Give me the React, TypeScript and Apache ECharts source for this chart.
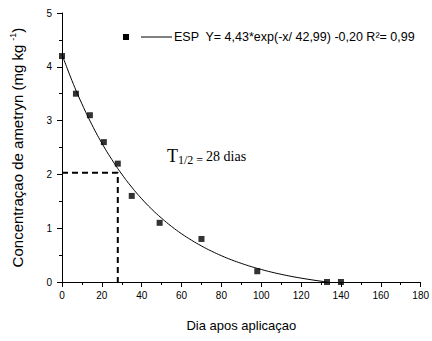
import React, { useEffect, useRef } from "react";
import * as echarts from "echarts";

const days = [0, 7, 14, 21, 28, 35, 49, 70, 98, 133, 140];
const concentration = [4.2, 3.5, 3.1, 2.6, 2.2, 1.6, 1.1, 0.8, 0.2, 0, 0];

// fitted curve Y = 4,43*exp(-x/42,99) - 0,20
const fitX = [0, 5, 10, 15, 20, 25, 30, 35, 40, 45, 50, 55, 60, 65, 70, 75, 80, 85, 90, 95, 100, 105, 110, 115, 120, 125, 130, 133];
const fitY = [4.23, 3.744, 3.311, 2.925, 2.582, 2.277, 2.005, 1.763, 1.547, 1.355, 1.185, 1.032, 0.897, 0.777, 0.67, 0.574, 0.489, 0.413, 0.346, 0.286, 0.233, 0.185, 0.143, 0.105, 0.072, 0.042, 0.015, 0];

const halfLifeX = [0, 28, 28];
const halfLifeY = [2.03, 2.03, 0];

const xTicks = [0, 20, 40, 60, 80, 100, 120, 140, 160, 180];
const yTicks = [0, 1, 2, 3, 4, 5];

const legendText = "ESP  Y= 4,43*exp(-x/ 42,99) -0,20 R\u00b2= 0,99";

export default function App() {
  const ref = useRef<HTMLDivElement>(null);
  useEffect(() => {
    if (!ref.current) return;
    const chart = echarts.init(ref.current, null, { renderer: "svg" });
    const font = "'Liberation Sans', Arial, sans-serif";
    const serif = "'Liberation Serif', 'Times New Roman', serif";
    const axisCommon = {
      axisLine: { show: true, onZero: false, lineStyle: { color: "#000", width: 1 } },
      axisTick: { show: true, inside: false, length: 5, lineStyle: { color: "#000" } },
      minorTick: { show: true, splitNumber: 2, length: 3, lineStyle: { color: "#000" } },
      splitLine: { show: false },
    };
    chart.setOption({
      animation: false,
      backgroundColor: "#fff",
      grid: { left: 62, right: 10, top: 13, bottom: 59, containLabel: false },
      xAxis: {
        type: "value",
        min: xTicks[0],
        max: xTicks[xTicks.length - 1],
        interval: 20,
        name: "Dia apos aplicaçao",
        nameLocation: "middle",
        nameGap: 37,
        ...axisCommon,
        axisLabel: { color: "#000", fontFamily: font, fontSize: 10, margin: 8 },
        nameTextStyle: { color: "#000", fontFamily: font, fontSize: 13 },
      },
      yAxis: {
        type: "value",
        min: yTicks[0],
        max: yTicks[yTicks.length - 1],
        interval: 1,
        name: "{n|Concentraçao de ametryn (mg kg }{s|-1}{n|)}",
        nameLocation: "middle",
        nameGap: 36,
        ...axisCommon,
        axisLabel: { color: "#000", fontFamily: font, fontSize: 10, margin: 10 },
        nameTextStyle: {
          color: "#000",
          fontFamily: font,
          fontSize: 15,
          rich: {
            n: { fontFamily: font, fontSize: 15, color: "#000" },
            s: { fontFamily: font, fontSize: 9, color: "#000", verticalAlign: "top", padding: [0, 0, 9, 0] },
          },
        },
      },
      series: [
        {
          type: "line",
          data: fitX.map((x, i) => [x, fitY[i]]),
          showSymbol: false,
          smooth: true,
          lineStyle: { color: "#000", width: 1 },
          z: 2,
        },
        {
          type: "line",
          data: halfLifeX.map((x, i) => [x, halfLifeY[i]]),
          showSymbol: false,
          lineStyle: { color: "#000", width: 2, type: [6, 4] },
          z: 2,
        },
        {
          type: "scatter",
          data: days.map((d, i) => [d, concentration[i]]),
          symbol: "rect",
          symbolSize: 6,
          itemStyle: { color: "#000" },
          z: 3,
        },
      ],
      graphic: [
        { type: "rect", shape: { x: 123, y: 34, width: 6, height: 6 }, style: { fill: "#000" } },
        { type: "line", shape: { x1: 141, y1: 37, x2: 172, y2: 37 }, style: { stroke: "#000", lineWidth: 1 } },
        {
          type: "text",
          x: 174,
          y: 37,
          style: { text: legendText, fontFamily: font, fontSize: 12.5, fill: "#000", verticalAlign: "middle" },
        },
        {
          type: "text",
          x: 167,
          y: 156,
          style: {
            text: "{t|T}{s|1/2 = }{n|28 dias}",
            verticalAlign: "middle",
            rich: {
              t: { fontFamily: serif, fontSize: 18, fill: "#000" },
              s: { fontFamily: serif, fontSize: 12, fill: "#000", padding: [8, 0, 0, 0] },
              n: { fontFamily: serif, fontSize: 14, fill: "#000" },
            },
          },
        },
      ],
    });
    return () => chart.dispose();
  }, []);
  return <div ref={ref} style={{ width: 432, height: 341, position: "absolute", left: 0, top: 0 }} />;
}
